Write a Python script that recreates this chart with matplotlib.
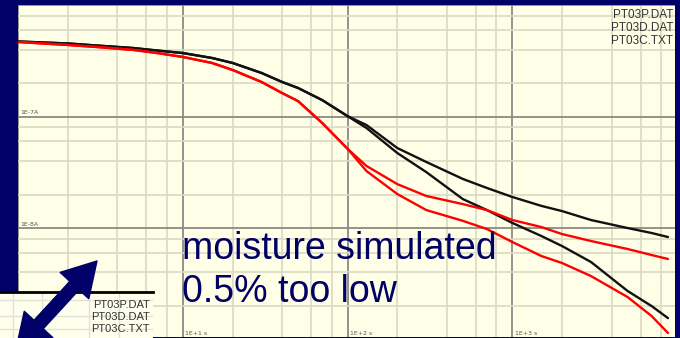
import matplotlib
matplotlib.use('Agg')
import matplotlib.pyplot as plt
import matplotlib.ticker as mticker
from matplotlib.patches import FancyArrowPatch

# time axis (s): common start, then the part where the curves split
t_head = [1, 2, 3, 5, 7, 10, 15, 20, 30, 40, 50, 70, 100]
t_tail = [130, 200, 300, 500, 700, 1000, 1500, 2000, 3000, 5000, 7000, 8800]

# current (A)
black_head = [4.74e-7, 4.55e-7, 4.36e-7, 4.14e-7, 3.93e-7, 3.73e-7, 3.37e-7,
              3.04e-7, 2.47e-7, 2.05e-7, 1.81e-7, 1.41e-7, 1.01e-7]
black_upper = [8.42e-8, 5.23e-8, 3.92e-8, 2.76e-8, 2.29e-8, 1.90e-8, 1.58e-8,
               1.42e-8, 1.18e-8, 1.00e-8, 9.02e-9, 8.30e-9]
black_lower = [7.92e-8, 4.72e-8, 3.18e-8, 1.82e-8, 1.45e-8, 1.11e-8, 8.47e-9,
               6.89e-9, 4.95e-9, 2.72e-9, 1.99e-9, 1.55e-9]

red_head = [4.69e-7, 4.41e-7, 4.23e-7, 3.98e-7, 3.73e-7, 3.44e-7, 3.04e-7,
            2.63e-7, 2.05e-7, 1.63e-7, 1.38e-7, 8.78e-8, 5.13e-8]
red_upper = [3.61e-8, 2.48e-8, 1.94e-8, 1.64e-8, 1.45e-8, 1.18e-8, 1.02e-8,
             8.83e-9, 7.64e-9, 6.48e-9, 5.72e-9, 5.27e-9]
red_lower = [3.25e-8, 2.02e-8, 1.45e-8, 1.16e-8, 9.79e-9, 7.48e-9, 5.60e-9,
             4.85e-9, 3.70e-9, 2.40e-9, 1.62e-9, 1.14e-9]

file_labels = ['PT03P.DAT', 'PT03D.DAT', 'PT03C.TXT']
y_marks = [1e-7, 1e-8]
y_mark_labels = ['1E-7A', '1E-8A']
x_marks = [10, 100, 1000]
x_mark_labels = ['1E+1 s', '1E+2 s', '1E+3 s']

NAVY = '#000068'
PAPER = '#FFFFE8'

W, H = 680, 338
fig = plt.figure(figsize=(W / 100, H / 100), dpi=100, facecolor=NAVY)

ax = fig.add_axes([18.3 / W, 1 / H, (675 - 18.3) / W, (337 - 5.4) / H])
ax.set_facecolor(PAPER)
ax.set_xscale('log')
ax.set_yscale('log')
ax.set_xlim(1, 10 ** 3.987)
ax.set_ylim(10 ** -8.979, 1e-6)

ax.xaxis.set_major_locator(mticker.LogLocator(base=10))
ax.yaxis.set_major_locator(mticker.LogLocator(base=10))
ax.xaxis.set_minor_locator(mticker.LogLocator(base=10, subs=(2, 4, 6, 8)))
ax.yaxis.set_minor_locator(mticker.LogLocator(base=10, subs=(2, 4, 6, 8)))
ax.grid(which='minor', color='#dadac4', lw=1.2)
ax.grid(which='major', color='#8a8a84', lw=1.3)
ax.set_axisbelow(True)
ax.tick_params(which='both', length=0, labelleft=False, labelbottom=False)
for s in ax.spines.values():
    s.set_visible(False)

style = dict(lw=1.7, solid_joinstyle='round', solid_capstyle='round')
ax.plot(t_head + t_tail, black_head + black_upper, color='#111111', **style)
ax.plot(t_head + t_tail, black_head + black_lower, color='#111111', **style)
ax.plot(t_head + t_tail, red_head + red_upper, color='#ff0000', **style)
ax.plot(t_head + t_tail, red_head + red_lower, color='#ff0000', **style)

# small in-plot scale labels
for v, lab in zip(y_marks, y_mark_labels):
    ax.text(1.03, v * 1.03, lab, fontsize=4.5, color='#555555', va='bottom', ha='left')
for v, lab in zip(x_marks, x_mark_labels):
    ax.text(v * 1.03, 0.004, lab, fontsize=4.5, color='#555555', va='bottom', ha='left',
            transform=ax.get_xaxis_transform())

# file names top right
for i, lab in enumerate(file_labels):
    fig.text(673 / W, 1 - (15.5 + 12.5 * i) / H, lab, fontsize=8.5, color='#333333',
             ha='right', va='center', family='Liberation Sans')

# annotation text
fig.text(182 / W, 1 - 259 / H, 'moisture simulated', fontsize=27, color='#000066',
         family='Liberation Sans', va='baseline')
fig.text(182 / W, 1 - 302 / H, '0.5% too low', fontsize=27, color='#000066',
         family='Liberation Sans', va='baseline')

# pasted snippet box bottom left
box = fig.add_axes([0, 0, 153 / W, (338 - 292) / H])
box.set_facecolor('#FFFFEE')
box.set_xlim(0, 1)
box.set_ylim(0, 1)
box.set_xticks([0.085, 0.275, 0.58, 0.78])
box.set_yticks([0.2, 0.47, 0.82])
box.grid(color='#e2e2d4', lw=1.0)
box.tick_params(length=0, labelleft=False, labelbottom=False)
for k, s in box.spines.items():
    s.set_visible(k == 'top')
box.spines['top'].set_linewidth(2)
box.spines['top'].set_color('black')
for i, lab in enumerate(file_labels):
    fig.text(150 / W, 1 - (305 + 12 * i) / H, lab, fontsize=8, color='#333333',
             ha='right', va='center', family='Liberation Sans')

# double headed arrow
mid = (57.5 / W, 1 - 304 / H)
for tip in [(97 / W, 1 - 261 / H), (16 / W, 1 - 349 / H)]:
    arr = FancyArrowPatch(mid, tip, transform=fig.transFigure,
                          arrowstyle='simple,head_length=24,head_width=28,tail_width=9',
                          color=NAVY, shrinkA=0, shrinkB=0, zorder=10)
    fig.add_artist(arr)

fig.savefig('out.png', dpi=100, facecolor=NAVY)
